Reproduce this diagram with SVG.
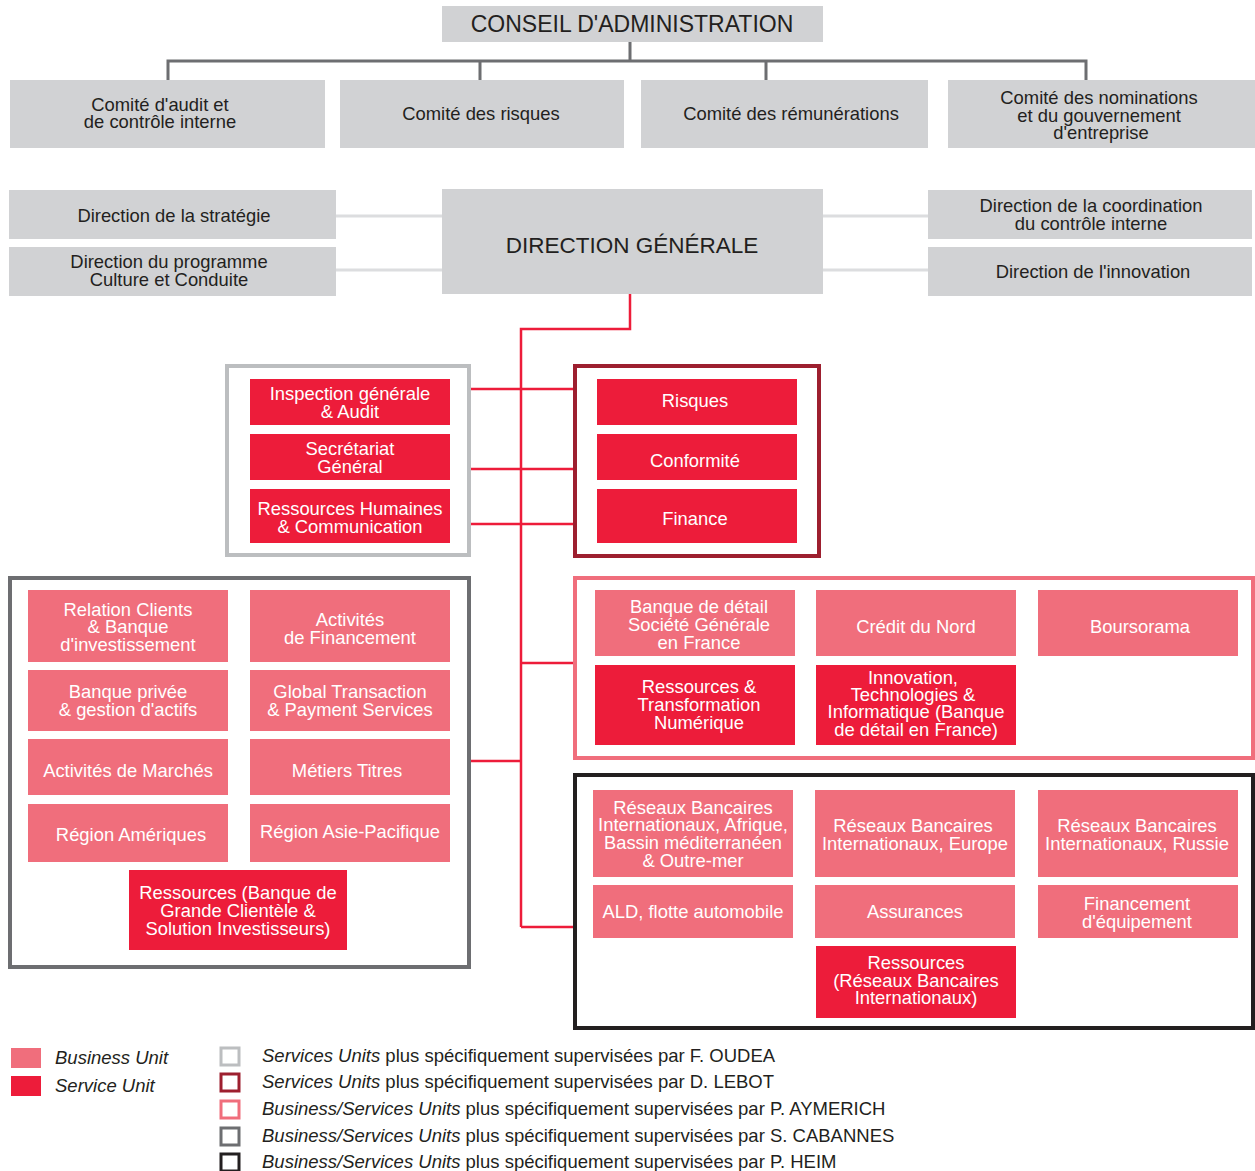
<svg xmlns="http://www.w3.org/2000/svg" width="1255" height="1171" viewBox="0 0 1255 1171">
<style>
text{font-family:"Liberation Sans",Arial,sans-serif;font-size:18.4px;text-anchor:middle}
.g{fill:#d1d2d4}
.dk{fill:#231f20}
.w{fill:#fff}
.bu{fill:#f06e7c}
.su{fill:#ed1c3a}
.big{font-size:23px}
.big2{font-size:22.5px}
.frame{fill:none;stroke-width:4}
.lg{text-anchor:start;font-size:18.5px}
.it{font-style:italic}
</style>
<rect width="1255" height="1171" fill="#fff"/>
<g id="connectors" fill="none">
  <path d="M630 42V61M168 80V61H1086V80M480 61V80M766 61V80" stroke="#6d6e71" stroke-width="3"/>
  <path d="M336 216H442M336 270H442M823 216H928M823 270H928" stroke="#dcdddf" stroke-width="3"/>
  <path d="M630 294V329H521V927M471 389H574M471 469H574M471 524H574M521 663H574M470 761H521M521 927H574" stroke="#ed1c3a" stroke-width="2.5"/>
</g>
<g id="conseil"><rect class="g" x="442" y="6" width="381" height="36"/><text class="dk big" x="632" y="32">CONSEIL D'ADMINISTRATION</text></g>
<g id="comite-audit"><rect class="g" x="10" y="80" width="315" height="68"/><text class="dk" x="160" y="111">Comité d'audit et</text><text class="dk" x="160" y="128">de contrôle interne</text></g>
<g id="comite-risques"><rect class="g" x="340" y="80" width="284" height="68"/><text class="dk" x="481" y="120">Comité des risques</text></g>
<g id="comite-remunerations"><rect class="g" x="641" y="80" width="287" height="68"/><text class="dk" x="791" y="120">Comité des rémunérations</text></g>
<g id="comite-nominations"><rect class="g" x="948" y="80" width="307" height="68"/><text class="dk" x="1099" y="104">Comité des nominations</text><text class="dk" x="1099" y="122">et du gouvernement</text><text class="dk" x="1101" y="139">d'entreprise</text></g>
<g id="dir-strategie"><rect class="g" x="9" y="190" width="327" height="49"/><text class="dk" x="174" y="222">Direction de la stratégie</text></g>
<g id="dir-culture"><rect class="g" x="9" y="247" width="327" height="49"/><text class="dk" x="169" y="268">Direction du programme</text><text class="dk" x="169" y="286">Culture et Conduite</text></g>
<g id="direction-generale"><rect class="g" x="442" y="189" width="381" height="105"/><text class="dk big2" x="632" y="253">DIRECTION GÉNÉRALE</text></g>
<g id="dir-coordination"><rect class="g" x="928" y="190" width="324" height="49"/><text class="dk" x="1091" y="212">Direction de la coordination</text><text class="dk" x="1091" y="230">du contrôle interne</text></g>
<g id="dir-innovation"><rect class="g" x="928" y="247" width="324" height="49"/><text class="dk" x="1093" y="278">Direction de l'innovation</text></g>

<g id="groupe-oudea">
  <rect class="frame" x="227" y="366" width="242" height="189" stroke="#bcbec0"/>
  <g id="inspection"><rect class="su" x="250" y="379" width="200" height="46"/><text class="w" x="350" y="400">Inspection générale</text><text class="w" x="350" y="418">&amp; Audit</text></g>
  <g id="secretariat"><rect class="su" x="250" y="434" width="200" height="46"/><text class="w" x="350" y="455">Secrétariat</text><text class="w" x="350" y="473">Général</text></g>
  <g id="rh"><rect class="su" x="250" y="489" width="200" height="54"/><text class="w" x="350" y="515">Ressources Humaines</text><text class="w" x="350" y="533">&amp; Communication</text></g>
</g>
<g id="groupe-lebot">
  <rect class="frame" x="575" y="366" width="244" height="190" stroke="#9d1f2f"/>
  <g id="risques"><rect class="su" x="597" y="379" width="200" height="46"/><text class="w" x="695" y="407">Risques</text></g>
  <g id="conformite"><rect class="su" x="597" y="434" width="200" height="46"/><text class="w" x="695" y="467">Conformité</text></g>
  <g id="finance"><rect class="su" x="597" y="489" width="200" height="54"/><text class="w" x="695" y="525">Finance</text></g>
</g>
<g id="groupe-cabannes">
  <rect class="frame" x="10" y="578" width="459" height="389" stroke="#6d6e71"/>
  <g id="relation-clients"><rect class="bu" x="28" y="590" width="200" height="72"/><text class="w" x="128" y="616">Relation Clients</text><text class="w" x="128" y="633">&amp; Banque</text><text class="w" x="128" y="651">d'investissement</text></g>
  <g id="activites-financement"><rect class="bu" x="250" y="590" width="200" height="72"/><text class="w" x="350" y="626">Activités</text><text class="w" x="350" y="644">de Financement</text></g>
  <g id="banque-privee"><rect class="bu" x="28" y="670" width="200" height="61"/><text class="w" x="128" y="698">Banque privée</text><text class="w" x="128" y="716">&amp; gestion d'actifs</text></g>
  <g id="gtps"><rect class="bu" x="250" y="670" width="200" height="61"/><text class="w" x="350" y="698">Global Transaction</text><text class="w" x="350" y="716">&amp; Payment Services</text></g>
  <g id="marches"><rect class="bu" x="28" y="739" width="200" height="56"/><text class="w" x="128" y="777">Activités de Marchés</text></g>
  <g id="metiers-titres"><rect class="bu" x="250" y="739" width="200" height="56"/><text class="w" x="347" y="777">Métiers Titres</text></g>
  <g id="region-ameriques"><rect class="bu" x="28" y="804" width="200" height="58"/><text class="w" x="131" y="841">Région Amériques</text></g>
  <g id="region-asie"><rect class="bu" x="250" y="804" width="200" height="58"/><text class="w" x="350" y="838">Région Asie-Pacifique</text></g>
  <g id="ressources-bgc"><rect class="su" x="129" y="870" width="218" height="80"/><text class="w" x="238" y="899">Ressources (Banque de</text><text class="w" x="238" y="917">Grande Clientèle &amp;</text><text class="w" x="238" y="935">Solution Investisseurs)</text></g>
</g>
<g id="groupe-aymerich">
  <rect class="frame" x="575" y="578" width="678" height="180" stroke="#f06e7c"/>
  <g id="bdf"><rect class="bu" x="595" y="590" width="200" height="66"/><text class="w" x="699" y="613">Banque de détail</text><text class="w" x="699" y="631">Société Générale</text><text class="w" x="699" y="649">en France</text></g>
  <g id="credit-nord"><rect class="bu" x="816" y="590" width="200" height="66"/><text class="w" x="916" y="633">Crédit du Nord</text></g>
  <g id="boursorama"><rect class="bu" x="1038" y="590" width="200" height="66"/><text class="w" x="1140" y="633">Boursorama</text></g>
  <g id="rtn"><rect class="su" x="595" y="665" width="200" height="80"/><text class="w" x="699" y="693">Ressources &amp;</text><text class="w" x="699" y="711">Transformation</text><text class="w" x="699" y="729">Numérique</text></g>
  <g id="iti"><rect class="su" x="816" y="665" width="200" height="80"/><text class="w" x="913" y="684">Innovation,</text><text class="w" x="913" y="701">Technologies &amp;</text><text class="w" x="916" y="718">Informatique (Banque</text><text class="w" x="916" y="736">de détail en France)</text></g>
</g>
<g id="groupe-heim">
  <rect class="frame" x="575" y="775" width="678" height="253" stroke="#231f20"/>
  <g id="rbi-afrique"><rect class="bu" x="593" y="790" width="200" height="87"/><text class="w" x="693" y="814">Réseaux Bancaires</text><text class="w" x="693" y="831" textLength="190" lengthAdjust="spacingAndGlyphs">Internationaux, Afrique,</text><text class="w" x="693" y="849" textLength="178" lengthAdjust="spacingAndGlyphs">Bassin méditerranéen</text><text class="w" x="693" y="867">&amp; Outre-mer</text></g>
  <g id="rbi-europe"><rect class="bu" x="815" y="790" width="200" height="87"/><text class="w" x="913" y="832">Réseaux Bancaires</text><text class="w" x="915" y="850" textLength="186" lengthAdjust="spacingAndGlyphs">Internationaux, Europe</text></g>
  <g id="rbi-russie"><rect class="bu" x="1038" y="790" width="200" height="87"/><text class="w" x="1137" y="832">Réseaux Bancaires</text><text class="w" x="1137" y="850" textLength="184" lengthAdjust="spacingAndGlyphs">Internationaux, Russie</text></g>
  <g id="ald"><rect class="bu" x="593" y="885" width="200" height="53"/><text class="w" x="693" y="918">ALD, flotte automobile</text></g>
  <g id="assurances"><rect class="bu" x="815" y="885" width="200" height="53"/><text class="w" x="915" y="918">Assurances</text></g>
  <g id="financement-equipement"><rect class="bu" x="1038" y="885" width="200" height="53"/><text class="w" x="1137" y="910">Financement</text><text class="w" x="1137" y="928">d'équipement</text></g>
  <g id="ressources-rbi"><rect class="su" x="816" y="946" width="200" height="72"/><text class="w" x="916" y="969">Ressources</text><text class="w" x="916" y="987">(Réseaux Bancaires</text><text class="w" x="916" y="1004">Internationaux)</text></g>
</g>
<g id="legende">
  <rect class="bu" x="11" y="1048" width="30" height="20"/>
  <text class="dk lg it" x="55" y="1064">Business Unit</text>
  <rect class="su" x="11" y="1076" width="30" height="20"/>
  <text class="dk lg it" x="55" y="1092">Service Unit</text>
  <rect x="221" y="1048" width="18" height="17" fill="#fff" stroke="#bcbec0" stroke-width="3"/>
  <rect x="221" y="1074" width="18" height="17" fill="#fff" stroke="#9d1f2f" stroke-width="3"/>
  <rect x="221" y="1101" width="18" height="17" fill="#fff" stroke="#f06e7c" stroke-width="3"/>
  <rect x="221" y="1128" width="18" height="17" fill="#fff" stroke="#6d6e71" stroke-width="3"/>
  <rect x="221" y="1154" width="18" height="17" fill="#fff" stroke="#231f20" stroke-width="3"/>
  <text class="dk lg" x="262" y="1062"><tspan class="it">Services Units</tspan> plus spécifiquement supervisées par F. OUDEA</text>
  <text class="dk lg" x="262" y="1088"><tspan class="it">Services Units</tspan> plus spécifiquement supervisées par D. LEBOT</text>
  <text class="dk lg" x="262" y="1115"><tspan class="it">Business/Services Units</tspan> plus spécifiquement supervisées par P. AYMERICH</text>
  <text class="dk lg" x="262" y="1142"><tspan class="it">Business/Services Units</tspan> plus spécifiquement supervisées par S. CABANNES</text>
  <text class="dk lg" x="262" y="1168"><tspan class="it">Business/Services Units</tspan> plus spécifiquement supervisées par P. HEIM</text>
</g>
</svg>
